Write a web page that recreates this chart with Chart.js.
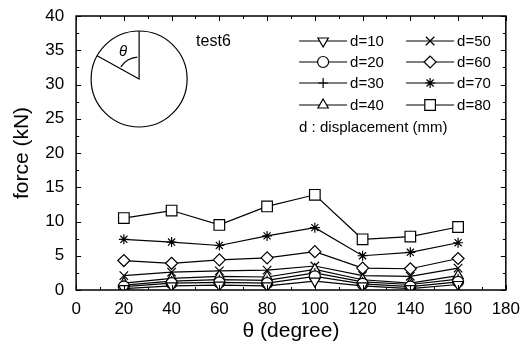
<!DOCTYPE html>
<html>
<head>
<meta charset="utf-8">
<script src="https://cdn.jsdelivr.net/npm/chart.js@4/dist/chart.umd.min.js"></script>
<style>
  html, body { margin: 0; padding: 0; background: #fff; }
  #wrap { width: 523px; height: 348px; }
</style>
</head>
<body>
<div id="wrap"><canvas id="chart-force"></canvas></div>
<script>
// theta positions (degree)
var thetas = [20, 40, 60, 80, 100, 120, 140, 160];

// force (kN) per displacement d (mm)
var d10 = [0.2, 0.6, 0.7, 0.6, 1.3, 0.6, 0.2, 0.8];
var d20 = [0.5, 1.0, 1.1, 1.0, 2.0, 0.9, 0.5, 1.2];
var d30 = [0.7, 1.3, 1.5, 1.4, 2.5, 1.2, 0.8, 1.6];
var d40 = [1.0, 1.7, 2.0, 1.9, 3.0, 1.5, 1.0, 2.1];
var d50 = [2.1, 2.6, 2.8, 2.9, 3.5, 2.1, 2.0, 3.2];
var d60 = [4.3, 3.9, 4.4, 4.7, 5.6, 3.2, 3.1, 4.6];
var d70 = [7.4, 7.0, 6.5, 7.9, 9.1, 5.0, 5.5, 6.9];
var d80 = [10.5, 11.6, 9.5, 12.2, 13.9, 7.4, 7.8, 9.2];

var seriesLabels = ["d=10", "d=20", "d=30", "d=40", "d=50", "d=60", "d=70", "d=80"];
var seriesValues = [d10, d20, d30, d40, d50, d60, d70, d80];
var seriesMarkers = [
    {style: "triangle", rotation: 180, radius: 6},
    {style: "circle", rotation: 0, radius: 5.5},
    {style: "cross", rotation: 0, radius: 5},
    {style: "triangle", rotation: 0, radius: 6},
    {style: "crossRot", rotation: 0, radius: 6},
    {style: "rectRot", rotation: 0, radius: 6},
    {style: "star", rotation: 0, radius: 5},
    {style: "rect", rotation: 0, radius: 7.5}
];

var FONT = "'Liberation Sans', Arial, Helvetica, sans-serif";

var datasets = seriesValues.map(function (vals, i) {
    return {
        label: seriesLabels[i],
        data: vals.map(function (v, j) { return {x: thetas[j], y: v}; }),
        borderColor: "#000",
        borderWidth: 1.2,
        backgroundColor: "#fff",
        pointStyle: seriesMarkers[i].style,
        rotation: seriesMarkers[i].rotation,
        pointRadius: seriesMarkers[i].radius,
        pointBorderWidth: 1.2,
        pointBorderColor: "#000",
        pointBackgroundColor: "#fff",
        tension: 0,
        fill: false
    };
});

// frame with inward ticks on all four sides
var frameTicks = {
    id: "frameTicks",
    afterDatasetsDraw: function (chart) {
        var ctx = chart.ctx, a = chart.chartArea;
        var xs = chart.scales.x, ys = chart.scales.y;
        ctx.save();
        ctx.strokeStyle = "#000";
        ctx.lineWidth = 1.5;
        ctx.strokeRect(a.left, a.top, a.right - a.left, a.bottom - a.top);
        ctx.lineWidth = 1;
        ctx.beginPath();
        for (var v = 0; v <= 180; v += 10) {
            var px = Math.round(xs.getPixelForValue(v)) + 0.5;
            var len = (v % 20 === 0) ? 5 : 3;
            ctx.moveTo(px, a.bottom); ctx.lineTo(px, a.bottom - len);
            ctx.moveTo(px, a.top); ctx.lineTo(px, a.top + len);
        }
        for (var w = 0; w <= 40; w += 2.5) {
            var py = Math.round(ys.getPixelForValue(w)) + 0.5;
            var l2 = (w % 5 === 0) ? 5 : 3;
            ctx.moveTo(a.left, py); ctx.lineTo(a.left + l2, py);
            ctx.moveTo(a.right, py); ctx.lineTo(a.right - l2, py);
        }
        ctx.stroke();
        ctx.restore();
    }
};

// inset sketch, test label and legend box
var annotations = {
    id: "annotations",
    afterDraw: function (chart) {
        var ctx = chart.ctx, a = chart.chartArea;
        ctx.save();
        ctx.strokeStyle = "#000";
        ctx.fillStyle = "#000";
        ctx.lineWidth = 1.2;

        // circle inset
        var cx = a.left + 63, cy = a.top + 63, r = 48;
        ctx.beginPath();
        ctx.arc(cx, cy, r, 0, Math.PI * 2);
        ctx.stroke();
        var ang = 61 * Math.PI / 180;
        ctx.beginPath();
        ctx.moveTo(cx, cy - r);
        ctx.lineTo(cx, cy);
        ctx.lineTo(cx - r * Math.sin(ang), cy - r * Math.cos(ang));
        ctx.stroke();
        // angle arc
        var ar = 22;
        ctx.beginPath();
        ctx.arc(cx, cy, ar, -Math.PI / 2 - ang + 0.08, -Math.PI / 2 - 0.08);
        ctx.stroke();
        ctx.font = "italic 15px " + FONT;
        ctx.textAlign = "center";
        ctx.textBaseline = "middle";
        ctx.fillText("\u03b8", cx - 16, cy - 27);

        // test label
        ctx.font = "16px " + FONT;
        ctx.textAlign = "left";
        ctx.fillText("test6", a.left + 120, a.top + 26);

        // legend
        ctx.font = "15px " + FONT;
        var cols = [a.left + 223, a.left + 330];
        var rows = [a.top + 25, a.top + 46, a.top + 67, a.top + 89];
        for (var i = 0; i < seriesLabels.length; i++) {
            var col = cols[Math.floor(i / 4)], row = rows[i % 4];
            var m = seriesMarkers[i];
            ctx.lineWidth = 1.2;
            ctx.beginPath();
            ctx.moveTo(col, row);
            ctx.lineTo(col + 48, row);
            ctx.stroke();
            ctx.fillStyle = "#fff";
            Chart.helpers.drawPoint(ctx, {
                pointStyle: m.style, rotation: m.rotation,
                radius: m.radius, borderWidth: 1.2
            }, col + 24, row);
            ctx.fillStyle = "#000";
            ctx.textBaseline = "middle";
            ctx.fillText(seriesLabels[i], col + 51, row + 1);
        }
        ctx.fillText("d : displacement (mm)", cols[0], a.top + 112);
        ctx.restore();
    }
};

new Chart(document.getElementById("chart-force"), {
    type: "line",
    data: {datasets: datasets},
    options: {
        responsive: true,
        maintainAspectRatio: false,
        animation: false,
        layout: {padding: {left: 6, right: 0, top: 16, bottom: 2}},
        plugins: {
            legend: {display: false},
            tooltip: {enabled: false}
        },
        scales: {
            x: {
                type: "linear",
                min: 0, max: 180,
                grid: {display: false},
                border: {display: false},
                ticks: {stepSize: 20, color: "#000", padding: 3,
                        font: {family: FONT, size: 17, lineHeight: 1.0}, maxRotation: 0},
                title: {display: true, text: "\u03b8 (degree)", color: "#000",
                        font: {family: FONT, size: 21, lineHeight: 1.0}, padding: {top: 0, bottom: 4}}
            },
            y: {
                min: 0, max: 40,
                grid: {display: false},
                border: {display: false},
                ticks: {stepSize: 5, color: "#000", padding: 4,
                        font: {family: FONT, size: 17}},
                title: {display: true, text: "force (kN)", color: "#000",
                        font: {family: FONT, size: 21}, padding: {bottom: 6}}
            }
        }
    },
    plugins: [frameTicks, annotations]
});
</script>
</body>
</html>
